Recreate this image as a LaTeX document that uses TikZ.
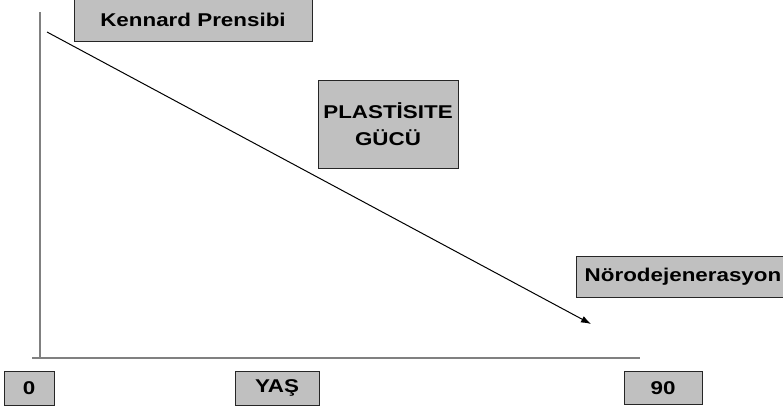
\documentclass[tikz,border=0pt]{standalone}
\usepackage{fontspec}
\setmainfont{Liberation Sans}
\usepackage{graphicx}
\usepackage{tikz}
\usetikzlibrary{arrows.meta,positioning}
\definecolor{boxgray}{HTML}{C0C0C0}
\definecolor{axisgray}{HTML}{808080}
\newcommand{\widetxt}[1]{\scalebox{1.21}[1]{#1}}

\begin{document}
\begin{tikzpicture}[x=1pt, y=-1pt, >=Latex,
  every node/.style={font=\fontsize{18.5}{24}\selectfont\bfseries},
  labelbox/.style={draw=black!85, line width=1pt, fill=boxgray, inner sep=0pt, align=center}]
\useasboundingbox (0,0) rectangle (783,410);
% axes
\coordinate (ytop) at (40,12);
\coordinate (yend) at (40,358);
\coordinate (xbeg) at (32,358);
\coordinate (xend) at (640,358);
\draw[axisgray, line width=1.5pt] (ytop) -- (yend);
\draw[axisgray, line width=1.5pt] (xbeg) -- (xend);
% trend
\coordinate (start) at (47,32);
\coordinate (tip) at (591,324);
\draw[->, line width=1pt, >={Latex[length=10pt,width=7pt]}] (start) -- (tip);
% labels
\node[labelbox, minimum width=238pt, minimum height=42pt] (kennard) at (193,20) {\widetxt{Kennard Prensibi}};
\node[labelbox, minimum width=140pt, minimum height=88pt] (plast) at (388,124)
  {\widetxt{PLAST\.ISITE}\\[3pt]\widetxt{GÜCÜ}};
\node[labelbox, minimum width=214pt, minimum height=41pt] (noro) at (683,276.5) {\widetxt{Nörodejenerasyon}};
\node[labelbox, minimum width=50pt, minimum height=34pt] (zero) at (29,388) {\widetxt{0}};
\node[labelbox, minimum width=84pt, minimum height=34pt] (yas) at (277,388) {\widetxt{YAŞ}};
\node[labelbox, minimum width=78pt, minimum height=33pt] (ninety) at (663,388) {\widetxt{90}};
\end{tikzpicture}
\end{document}
